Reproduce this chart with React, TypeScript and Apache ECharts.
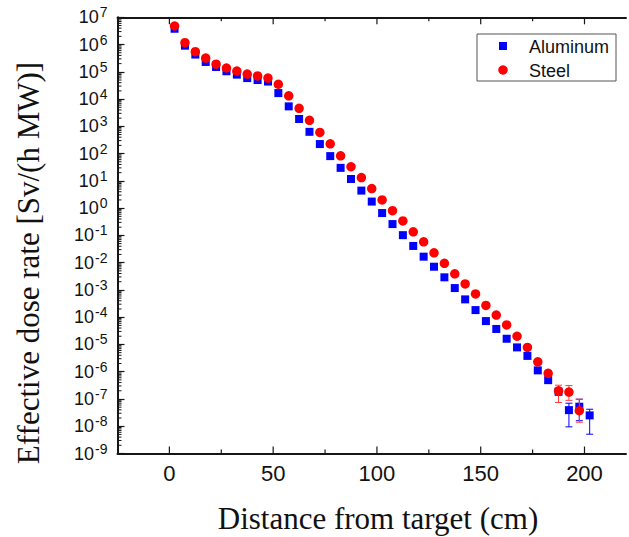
import { useEffect, useRef } from "react";
import * as echarts from "echarts";

// Distance from target (cm) and effective dose rate (Sv/(h MW))
const distanceAl = [
  2.5, 7.5, 12.5, 17.5, 22.5, 27.5, 32.5, 37.5, 42.5, 47.5, 52.5, 57.5, 62.5, 67.5,
  72.5, 77.5, 82.5, 87.5, 92.5, 97.5, 102.5, 107.5, 112.5, 117.5, 122.5, 127.5,
  132.5, 137.5, 142.5, 147.5, 152.5, 157.5, 162.5, 167.5, 172.5, 177.5, 182.5,
  187.5, 192.5, 197.5, 202.5,
];
const aluminum = [
  3.8e6, 9.1e5, 4.3e5, 2.3e5, 1.5e5, 1.05e5, 7.9e4, 5.9e4, 5.0e4, 4.4e4, 1.66e4,
  5.4e3, 1.86e3, 630, 224, 81, 30, 11.7, 4.4, 1.74, 0.66, 0.26, 0.102, 0.041,
  0.0166, 0.0071, 0.0029, 0.00117, 4.5e-4, 1.82e-4, 7.2e-5, 3.7e-5, 1.62e-5,
  7.8e-6, 3.8e-6, 1.12e-6, 4.9e-7, 1.86e-7, 3.9e-8, 5.2e-8, 2.5e-8,
];
const distanceSteel = [
  2.5, 7.5, 12.5, 17.5, 22.5, 27.5, 32.5, 37.5, 42.5, 47.5, 52.5, 57.5, 62.5, 67.5,
  72.5, 77.5, 82.5, 87.5, 92.5, 97.5, 102.5, 107.5, 112.5, 117.5, 122.5, 127.5,
  132.5, 137.5, 142.5, 147.5, 152.5, 157.5, 162.5, 167.5, 172.5, 177.5, 182.5,
  187.5, 192.5, 197.5,
];
const steel = [
  4.8e6, 1.17e6, 5.5e5, 3.2e5, 1.9e5, 1.38e5, 1.07e5, 8.3e4, 7.1e4, 5.9e4, 3.5e4,
  1.32e4, 4.6e3, 1.66e3, 600, 229, 83, 33, 13.2, 5.2, 2.0, 0.81, 0.34, 0.135,
  0.058, 0.023, 0.0095, 0.0039, 0.00166, 7.1e-4, 2.7e-4, 1.2e-4, 5.2e-5, 2.0e-5,
  7.8e-6, 2.3e-6, 8.7e-7, 2.0e-7, 1.8e-7, 3.7e-8,
];

// Statistical uncertainty ranges at the deepest positions
const alErrDistance = [182.5, 187.5, 192.5, 197.5, 202.5];
const alErrLow = [3.7e-7, 1.4e-7, 9.5e-9, 1.6e-8, 5.1e-9];
const alErrHigh = [6.2e-7, 2.4e-7, 7.0e-8, 9.8e-8, 4.2e-8];
const steelErrDistance = [187.5, 192.5, 197.5];
const steelErrLow = [7.4e-8, 8.9e-8, 1.4e-8];
const steelErrHigh = [3.2e-7, 3.1e-7, 9.8e-8];

// Axes
const xTickLabels = [0, 50, 100, 150, 200];
const xMinorTicks = [25, 75, 125, 175];
const X_MIN = -25;
const X_MAX = 220;
const yExponents = [-9, -8, -7, -6, -5, -4, -3, -2, -1, 0, 1, 2, 3, 4, 5, 6, 7];
const yMinorFactors = [2, 3, 4, 5, 6, 7, 8, 9];

const BLUE = "#0000ff";
const RED = "#ff0000";
const AXIS = "#161616";
const SANS = 'Arial, "Liberation Sans", sans-serif';
const SERIF = '"Times New Roman", "Liberation Serif", serif';

const lg = Math.log10;
const Y_MIN = yExponents[0];
const Y_MAX = yExponents[yExponents.length - 1];

const axisLine = { show: true, onZero: false, lineStyle: { color: AXIS, width: 2 } };

function errorBarSeries(name: string, xs: number[], lo: number[], hi: number[], color: string, z: number) {
  return {
    type: "custom",
    name,
    z,
    silent: true,
    encode: { x: 0, y: [1, 2] },
    data: xs.map((x, i) => [x, lg(lo[i]), lg(hi[i])]),
    renderItem: (_params: any, api: any) => {
      const top = api.coord([api.value(0), api.value(2)]);
      const bot = api.coord([api.value(0), api.value(1)]);
      const w = 3.5;
      const style = { stroke: color, lineWidth: 1 };
      return {
        type: "group",
        children: [
          { type: "line", shape: { x1: top[0], y1: top[1], x2: bot[0], y2: bot[1] }, style },
          { type: "line", shape: { x1: top[0] - w, y1: top[1], x2: top[0] + w, y2: top[1] }, style },
          { type: "line", shape: { x1: bot[0] - w, y1: bot[1], x2: bot[0] + w, y2: bot[1] }, style },
        ],
      };
    },
  };
}

export default function App() {
  const ref = useRef<HTMLDivElement>(null);

  useEffect(() => {
    if (!ref.current) return;
    const chart = echarts.init(ref.current, undefined, { renderer: "svg" });

    // inward x ticks on bottom and top frame lines
    const xTickData = [
      ...xTickLabels.map((v) => [v, Y_MIN, 7]),
      ...xMinorTicks.map((v) => [v, Y_MIN, 4]),
    ];
    // logarithmic minor ticks on the left axis
    const yMinorData: number[][] = [];
    yExponents.slice(0, -1).forEach((n) => {
      yMinorFactors.forEach((k) => yMinorData.push([X_MIN, n + lg(k), 4]));
    });

    chart.setOption({
      animation: false,
      backgroundColor: "#ffffff",
      grid: { left: 117.5, top: 17.3, right: -2, bottom: 83.5, containLabel: false },
      xAxis: [
        {
          type: "value",
          position: "bottom",
          min: X_MIN,
          max: X_MAX,
          interval: 25,
          axisLine,
          axisTick: { show: false },
          splitLine: { show: false },
          axisLabel: {
            margin: 9,
            fontSize: 22,
            fontFamily: SANS,
            color: "#111",
            formatter: (v: number) => (xTickLabels.includes(v) ? String(v) : ""),
          },
        },
        {
          type: "value",
          position: "top",
          min: X_MIN,
          max: X_MAX,
          interval: 25,
          axisLine,
          axisTick: { show: false },
          axisLabel: { show: false },
          splitLine: { show: false },
        },
      ],
      yAxis: {
        type: "value",
        position: "left",
        min: Y_MIN,
        max: Y_MAX,
        interval: 1,
        axisLine,
        axisTick: { show: true, inside: true, length: 7, lineStyle: { color: AXIS, width: 1.2 } },
        splitLine: { show: false },
        axisLabel: {
          margin: 10,
          color: "#111",
          fontFamily: SANS,
          formatter: (v: number) => `{b|10}{s|${v}}`,
          rich: {
            b: { fontSize: 18, lineHeight: 18, fontFamily: SANS, color: "#111", verticalAlign: "bottom" },
            s: {
              fontSize: 14,
              lineHeight: 14,
              fontFamily: SANS,
              color: "#111",
              verticalAlign: "bottom",
              padding: [0, 0, 7, 1],
            },
          },
        },
      },
      series: [
        {
          type: "custom",
          name: "xTicks",
          silent: true,
          z: 5,
          xAxisIndex: 0,
          encode: { x: 0, y: 1 },
          data: xTickData,
          renderItem: (_p: any, api: any) => {
            const b = api.coord([api.value(0), Y_MIN]);
            const t = api.coord([api.value(0), Y_MAX]);
            const len = api.value(2);
            const style = { stroke: AXIS, lineWidth: 1.2 };
            return {
              type: "group",
              children: [
                { type: "line", shape: { x1: b[0], y1: b[1], x2: b[0], y2: b[1] - len }, style },
                { type: "line", shape: { x1: t[0], y1: t[1], x2: t[0], y2: t[1] + len }, style },
              ],
            };
          },
        },
        {
          type: "custom",
          name: "yMinorTicks",
          silent: true,
          z: 5,
          encode: { x: 0, y: 1 },
          data: yMinorData,
          renderItem: (_p: any, api: any) => {
            const p = api.coord([X_MIN, api.value(1)]);
            const len = api.value(2);
            return {
              type: "line",
              shape: { x1: p[0], y1: p[1], x2: p[0] + len, y2: p[1] },
              style: { stroke: AXIS, lineWidth: 1 },
            };
          },
        },
        errorBarSeries("Aluminum error", alErrDistance, alErrLow, alErrHigh, BLUE, 6),
        {
          type: "scatter",
          name: "Aluminum",
          z: 7,
          symbol: "rect",
          symbolSize: 8,
          itemStyle: { color: BLUE, opacity: 1 },
          data: distanceAl.map((d, i) => [d, lg(aluminum[i])]),
        },
        errorBarSeries("Steel error", steelErrDistance, steelErrLow, steelErrHigh, "#ff3a3a", 8),
        {
          type: "scatter",
          name: "Steel",
          z: 9,
          symbol: "circle",
          symbolSize: 9.5,
          itemStyle: { color: RED, opacity: 1 },
          data: distanceSteel.map((d, i) => [d, lg(steel[i])]),
        },
      ],
      graphic: [
        {
          type: "text",
          x: 378,
          y: 518,
          style: {
            text: "Distance from target (cm)",
            fontSize: 31,
            fontFamily: SERIF,
            fill: "#111",
            align: "center",
            verticalAlign: "middle",
          },
        },
        {
          type: "text",
          x: 28,
          y: 263,
          rotation: Math.PI / 2,
          style: {
            text: "Effective dose rate [Sv/(h MW)]",
            fontSize: 31,
            fontFamily: SERIF,
            fill: "#111",
            align: "center",
            verticalAlign: "middle",
          },
        },
        {
          type: "group",
          children: [
            {
              type: "rect",
              shape: { x: 477, y: 34, width: 139, height: 47 },
              style: { fill: "#ffffff", stroke: "#555", lineWidth: 1 },
            },
            {
              type: "rect",
              shape: { x: 499, y: 42, width: 8, height: 8 },
              style: { fill: BLUE },
            },
            {
              type: "circle",
              shape: { cx: 503, cy: 70, r: 4.75 },
              style: { fill: RED },
            },
            {
              type: "text",
              x: 529,
              y: 47,
              style: { text: "Aluminum", fontSize: 18, fontFamily: SANS, fill: "#111", verticalAlign: "middle" },
            },
            {
              type: "text",
              x: 529,
              y: 71,
              style: { text: "Steel", fontSize: 18, fontFamily: SANS, fill: "#111", verticalAlign: "middle" },
            },
          ],
        },
      ],
    });

    return () => chart.dispose();
  }, []);

  return (
    <div
      ref={ref}
      style={{ position: "absolute", left: 0, top: 0, width: 629, height: 537, background: "#fff" }}
    />
  );
}
